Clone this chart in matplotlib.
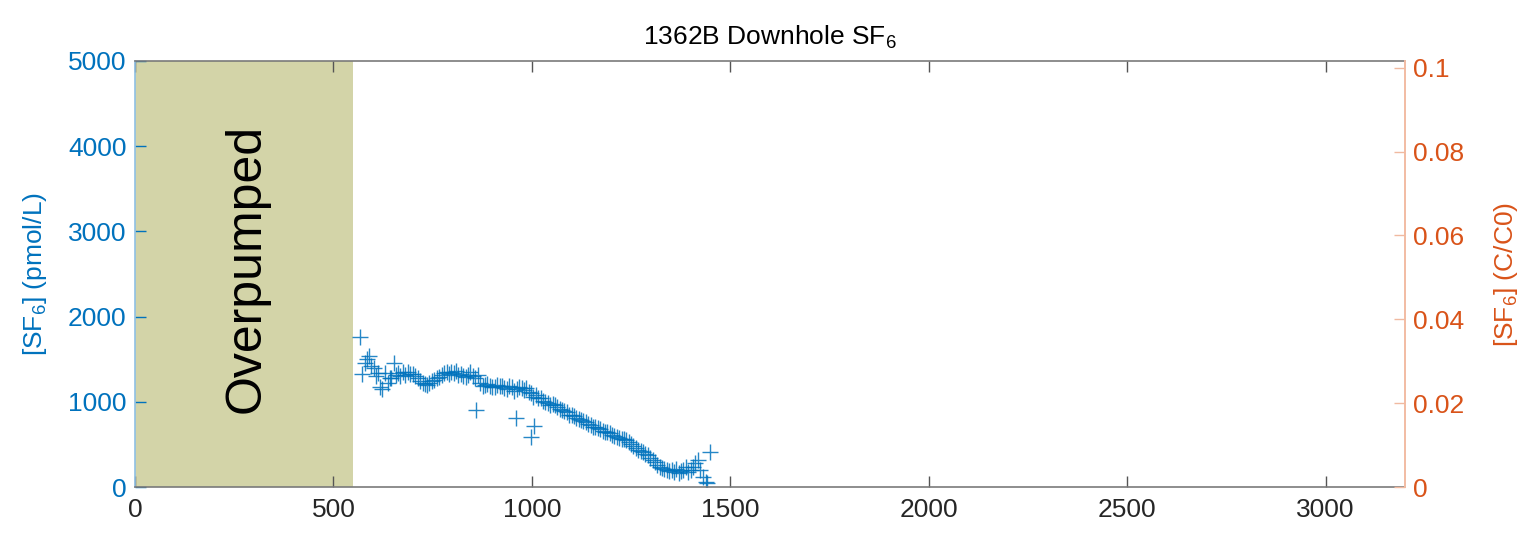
import matplotlib
matplotlib.use("Agg")
import matplotlib.pyplot as plt
from matplotlib.patches import Rectangle

plt.rcParams['font.family'] = ['Liberation Sans', 'DejaVu Sans']
plt.rcParams['mathtext.fontset'] = 'custom'
plt.rcParams['mathtext.rm'] = 'Liberation Sans'
plt.rcParams['mathtext.it'] = 'Liberation Sans'
plt.rcParams['mathtext.bf'] = 'Liberation Sans'

# Downhole SF6 concentration (pmol/L) against elapsed volume
volume = [
    567, 573, 579, 585, 589, 595, 603, 608, 612, 617, 622, 630, 637, 642, 646,
    652, 657, 662, 668, 675, 681, 688, 694, 700,
    706, 713, 719, 725, 730, 735, 741, 748, 754, 760, 766, 773, 779, 785, 791,
    797, 803, 809, 815, 821, 827, 833, 839, 845, 851, 857,
    858, 864, 870, 876, 882, 888, 894, 900, 907, 913, 919, 925, 931, 937, 943,
    950, 956, 961, 962, 968, 974, 980, 986, 992, 997, 998, 1006,
    1004, 1010, 1016, 1022, 1028, 1034, 1040, 1046, 1052, 1058, 1064, 1070,
    1076, 1082, 1088, 1094, 1100, 1106, 1112, 1118, 1124, 1130, 1136, 1142,
    1148, 1154, 1160, 1166, 1172, 1178, 1184, 1190, 1196, 1202, 1208, 1214,
    1220, 1226, 1232, 1238, 1244, 1250, 1256, 1262, 1268, 1274, 1280, 1286,
    1292, 1298, 1304,
    1310, 1316, 1322, 1328, 1334, 1340, 1346, 1352, 1358, 1364, 1370, 1376,
    1382, 1388, 1394, 1400, 1406, 1412, 1418, 1424, 1431, 1438, 1442, 1448,
]
sf6 = [
    1760, 1330, 1455, 1500, 1537, 1420, 1393, 1300, 1338, 1177, 1150, 1338,
    1220, 1280, 1279, 1459, 1320, 1338, 1300, 1345, 1320, 1350, 1330, 1330,
    1300, 1279, 1240, 1220, 1210, 1197, 1215, 1240, 1256, 1280, 1291, 1310,
    1338, 1350, 1330, 1345, 1340, 1360, 1315, 1330, 1300, 1290, 1310, 1350,
    1300, 1280,
    904, 1315, 1220, 1180, 1200, 1210, 1190, 1170, 1177, 1200, 1190, 1180,
    1160, 1150, 1180, 1170, 1130, 806, 1150, 1170, 1162, 1140, 1160, 1120,
    583, 1100, 716,
    1060, 1080, 1050, 1040, 1010, 1000, 990, 960, 970, 962, 940, 920,
    900, 890, 880, 850, 850, 830, 810, 800, 790, 770, 760, 740,
    730, 708, 700, 690, 680, 660, 650, 640, 630, 610, 600, 590,
    570, 560, 560, 552, 530, 500, 480, 460, 440, 420, 410, 390,
    370, 340, 320,
    290, 260, 240, 220, 210, 200, 190, 200, 180, 210, 170, 190,
    200, 230, 180, 200, 240, 280, 320, 200, 117, 60, 47, 411,
]

overpumped_end = 550
x_ticks = [0, 500, 1000, 1500, 2000, 2500, 3000]
left_ticks = [0, 1000, 2000, 3000, 4000, 5000]
right_ticks = [0, 0.02, 0.04, 0.06, 0.08, 0.1]
right_tick_labels = ['0', '0.02', '0.04', '0.06', '0.08', '0.1']

blue = '#0072BD'
orange = '#D95319'
dark = '#262626'
FS = 19

fig = plt.figure(figsize=(15.29, 5.34), dpi=100)
ax = fig.add_axes([0.0883, 0.0880, 0.8306, 0.7978])
ax.set_xlim(0, 3200)
ax.set_ylim(0, 5000)

ax.add_patch(Rectangle((0, 0), overpumped_end, 5000, facecolor='#D3D4A8',
                       edgecolor='none', zorder=0))
ax.text(overpumped_end / 2 + 5, 2560, 'Overpumped', rotation=90, ha='center',
        va='center', fontsize=36, color='black')

ax.plot(volume, sf6, linestyle='none', marker='+', markersize=11,
        markeredgewidth=1.0, color=blue, alpha=0.85)

ax.set_xticks(x_ticks)
ax.set_yticks(left_ticks)
ax.tick_params(axis='x', direction='in', length=8, width=1, colors='#555555',
               labelcolor=dark, labelsize=FS, top=True, pad=8)
ax.tick_params(axis='y', direction='in', length=8, width=1, colors=blue,
               labelcolor=blue, labelsize=FS, pad=6)
for s in ('top', 'bottom'):
    ax.spines[s].set_color('#7a7a7a')
    ax.spines[s].set_linewidth(1.2)
ax.spines['left'].set_color('#8FC0E4')
ax.spines['left'].set_linewidth(1.2)
ax.spines['right'].set_visible(False)
ax.set_ylabel('[SF$_6$] (pmol/L)', color=blue, fontsize=FS, labelpad=14)
ax.set_title('1362B Downhole SF$_6$', fontsize=FS, color='black', pad=12)

ax2 = ax.twinx()
ax2.set_ylim(0, 0.1016)
ax2.set_yticks(right_ticks)
ax2.set_yticklabels(right_tick_labels)
ax2.tick_params(axis='y', direction='in', length=8, width=1, colors='#F0B9A0',
                labelcolor=orange, labelsize=FS, pad=6)
for s in ('top', 'bottom', 'left'):
    ax2.spines[s].set_visible(False)
ax2.spines['right'].set_color('#F2BCA3')
ax2.spines['right'].set_linewidth(1.4)
ax2.set_ylabel('[SF$_6$] (C/C0)', color=orange, fontsize=FS, labelpad=20)

fig.savefig('out.png', dpi=100)
